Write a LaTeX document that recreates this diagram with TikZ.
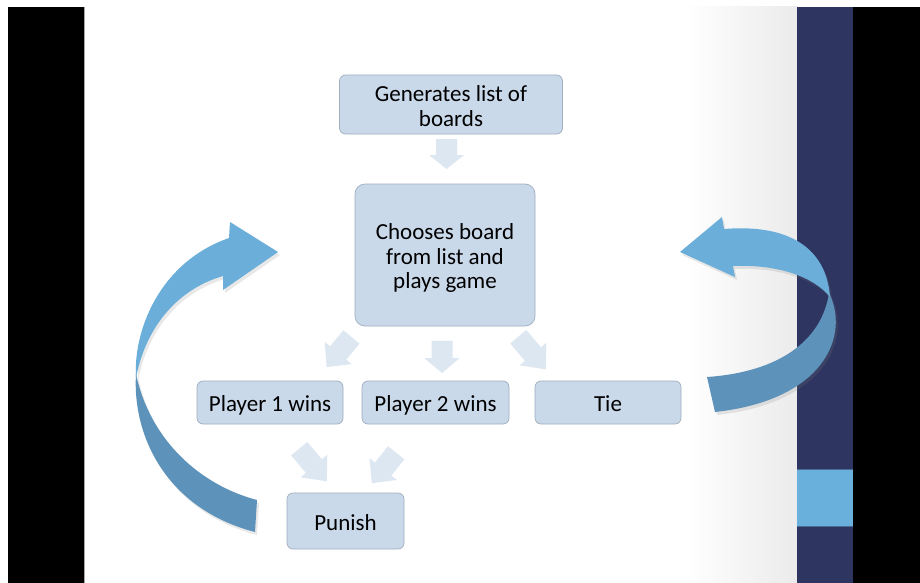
\documentclass[tikz,border=0pt]{standalone}
\usepackage{fontspec}
\setmainfont{Carlito}
\usetikzlibrary{shadows}
\definecolor{boxfill}{RGB}{201,217,234}
\definecolor{boxline}{RGB}{160,174,190}
\definecolor{smallarr}{RGB}{221,231,242}
\definecolor{bigA}{RGB}{106,174,217}
\definecolor{bigB}{RGB}{93,147,187}
\definecolor{navy}{RGB}{45,53,96}
\definecolor{sqblue}{RGB}{106,176,220}
\definecolor{sqline}{RGB}{74,106,150}
\definecolor{grad}{RGB}{235,235,235}
\newcommand\boxtext[1]{\raisebox{-4.5pt}[\height][\depth]{\begin{tabular}{@{}c@{}}#1\end{tabular}}}
\begin{document}
\begin{tikzpicture}[x=1pt,y=-1pt,
  box/.style={draw=boxline, line width=0.7pt, fill=boxfill, rounded corners=6pt,
    align=center, inner sep=0pt, font=\fontsize{23}{24.5}\selectfont},
  bigshadow/.style={drop shadow={shadow xshift=2pt, shadow yshift=-3pt, opacity=0.18}},
  blk/.pic={\fill[smallarr] (-15,-10.5) -- (1,-10.5) -- (1,-17.5) -- (15,0) -- (1,17.5) -- (1,10.5) -- (-15,10.5) -- cycle;}
]
\useasboundingbox (0,0) rectangle (920,583);
\fill[white] (0,0) rectangle (920,583);
\fill[black] (8,7) rectangle (920,583);
\fill[white] (85,7) rectangle (797,583);
\shade[left color=white, right color=grad] (685,7) rectangle (797,583);
\draw[gray!70, line width=0.8pt] (84.6,7) -- (84.6,583);
\fill[navy] (797,7) rectangle (853,583);
\fill[sqblue] (797,469) rectangle (853,526);
\draw[sqline, line width=0.6pt] (797,469) -- (853,469) (797,526) -- (853,526);

% boxes
\node[box, minimum width=223pt, minimum height=59pt] (gen) at (451,104.5) {\boxtext{Generates list of\\boards}};
\node[box, rounded corners=10pt, minimum width=180pt, minimum height=142pt] (choose) at (445,255) {\boxtext{Chooses board\\from list and\\plays game}};
\node[box, minimum width=146pt, minimum height=43pt] (p1) at (270,402.5) {\boxtext{Player 1 wins}};
\node[box, minimum width=147pt, minimum height=43pt] (p2) at (435.5,402.5) {\boxtext{Player 2 wins}};
\node[box, minimum width=146pt, minimum height=43pt] (tie) at (608,402.5) {\boxtext{Tie}};
\node[box, minimum width=117pt, minimum height=56pt] (punish) at (345.5,521) {\boxtext{Punish}};

% small block arrows
\pic[rotate=-90] at (446.5,154) {blk};
\pic[rotate=-90, xscale=1.07] at (442,357) {blk};
\pic[rotate=-129.5, xscale=1.3] at (339,352) {blk};
\pic[rotate=-49.8, xscale=1.42] at (532,353) {blk};
\pic[rotate=-49.7, xscale=1.42] at (313,465) {blk};
\pic[rotate=-128.7, xscale=1.3] at (384,468) {blk};

% left curved arrow
\fill[bigB, bigshadow] (136,374) .. controls (132,440) and (170,510) .. (255,532) -- (257,500)
  .. controls (200,485) and (150,440) .. (136,374) -- cycle;
\fill[bigA, bigshadow] (136,378) .. controls (133,330) and (160,262) .. (229,238) -- (230,222) -- (278,252)
  -- (223,290) -- (223,276) .. controls (175,290) and (145,330) .. (136,378) -- cycle;

% right curved arrow
\fill[bigB, bigshadow] (829,293) .. controls (850,335) and (825,400) .. (715,412) -- (707,377)
  .. controls (780,372) and (822,340) .. (829,293) -- cycle;
\fill[bigA, bigshadow] (830,297) .. controls (826,245) and (785,224) .. (724,229) -- (722,217) -- (680,252)
  -- (735,277) -- (733,266) .. controls (780,264) and (815,278) .. (830,297) -- cycle;
\end{tikzpicture}
\end{document}
